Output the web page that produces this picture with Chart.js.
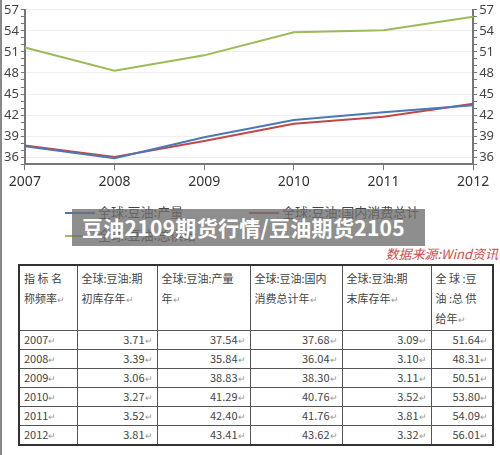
<!DOCTYPE html>
<html><head><meta charset="utf-8">
<script src="https://cdn.jsdelivr.net/npm/chart.js@4"></script>
<style>
body{margin:0;width:500px;height:455px;background:#fff;position:relative;overflow:hidden;font-family:"Noto Sans CJK SC","Noto Sans",sans-serif;}
#edge{position:absolute;left:0;top:0;width:2px;height:455px;background:#8a8a8a;}
#wrap{position:absolute;left:0;top:0;width:500px;height:193px;}
.lg{position:absolute;font-size:13px;color:#444;}
.lg i{display:inline-block;width:30px;height:2px;vertical-align:middle;margin-right:3px;}
#title{position:absolute;left:72px;top:209px;width:353px;height:37px;background:rgba(110,110,110,0.78);color:#fff;font-weight:bold;font-size:21px;line-height:37px;padding-left:10px;box-sizing:border-box;letter-spacing:0.3px;}
#src{position:absolute;right:2px;top:244px;color:#d04a4a;font-size:13px;font-style:italic;}
table{position:absolute;left:18px;top:264px;border-collapse:collapse;border:2px solid #333;font-size:11px;color:#444;}
td{border:1px solid #555;padding:0 4px;height:19px;line-height:14px;vertical-align:middle;box-sizing:border-box;}
tr.h td{vertical-align:top;height:63px;line-height:20px;padding-top:2px;}
td.n{text-align:right;}
.r{color:#999;font-size:9px;}
</style></head><body>
<div id="wrap"><canvas id="c"></canvas></div>
<div id="edge"></div>
<div class="lg" style="left:65px;top:202px"><i style="background:#4a78b8"></i>全球:豆油:产量</div>
<div class="lg" style="left:249px;top:202px"><i style="background:#c04848"></i>全球:豆油:国内消费总计</div>
<div class="lg" style="left:65px;top:225px"><i style="background:#9bbb59"></i>全球:豆油:总供给</div>
<div id="title">豆油2109期货行情/豆油期货2105</div>
<div id="src">数据来源:Wind资讯</div>
<table id="t"></table>
<script>
const years = ["2007","2008","2009","2010","2011","2012"];
const production = [37.54,35.84,38.83,41.29,42.40,43.41];
const consumption = [37.68,36.04,38.30,40.76,41.76,43.62];
const supply = [51.64,48.31,50.51,53.80,54.09,56.01];
const openStock = [3.71,3.39,3.06,3.27,3.52,3.81];
const endStock = [3.09,3.10,3.11,3.52,3.81,3.32];
const headers = ["指 标 名<br>称频率","全球:豆油:期<br>初库存年","全球:豆油:产量<br>年","全球:豆油:国内<br>消费总计年","全球:豆油:期<br>末库存年","全 球 :豆<br>油 :总 供<br>给年"];

let h='<tr class="h">'+headers.map(x=>'<td>'+x+'<span class="r">↵</span></td>').join('')+'</tr>';
const widths=[58,80,93,92,89,62];
years.forEach((y,i)=>{
  const vals=[openStock[i],production[i],consumption[i],endStock[i],supply[i]];
  h+='<tr><td>'+y+'<span class="r">↵</span></td>'+vals.map(v=>'<td class="n">'+v.toFixed(2)+'<span class="r">↵</span></td>').join('')+'</tr>';
});
const t=document.getElementById('t');t.innerHTML=h;
[...t.rows[0].cells].forEach((c,i)=>{c.style.width=widths[i]+'px';});

const yCommon = {min:35,max:57,
  ticks:{stepSize:1,autoSkip:false,color:'#444',font:{size:13,family:'Noto Sans'},padding:2,
    callback:v=>v%3===0?String(v):''},
  grid:{color:c=>c.tick&&c.tick.value%3===0&&c.tick.value!==35?'#eeeeee':'rgba(0,0,0,0)',
    tickColor:'#777',tickLength:4},
  border:{color:'#777',width:2}};
new Chart(document.getElementById('c'),{
  type:'line',
  data:{labels:years,datasets:[
    {data:production,borderColor:'#4a78b8',borderWidth:2},
    {data:consumption,borderColor:'#c04848',borderWidth:2},
    {data:supply,borderColor:'#9bbb59',borderWidth:2}]},
  options:{responsive:true,maintainAspectRatio:false,animation:false,
    elements:{point:{radius:0},line:{tension:0}},
    plugins:{legend:{display:false},tooltip:{enabled:false}},
    layout:{padding:{left:2,right:4,top:5,bottom:0}},
    scales:{
      x:{offset:false,ticks:{color:'#333',font:{size:14,family:'Noto Sans'},maxRotation:0},
        grid:{display:true,drawOnChartArea:false,tickColor:'#777',tickLength:6},border:{color:'#777',width:2}},
      y:Object.assign({position:'left'},yCommon),
      y2:Object.assign({position:'right'},yCommon,{grid:Object.assign({},yCommon.grid,{drawOnChartArea:false})})
    }}
});
</script>
</body></html>
